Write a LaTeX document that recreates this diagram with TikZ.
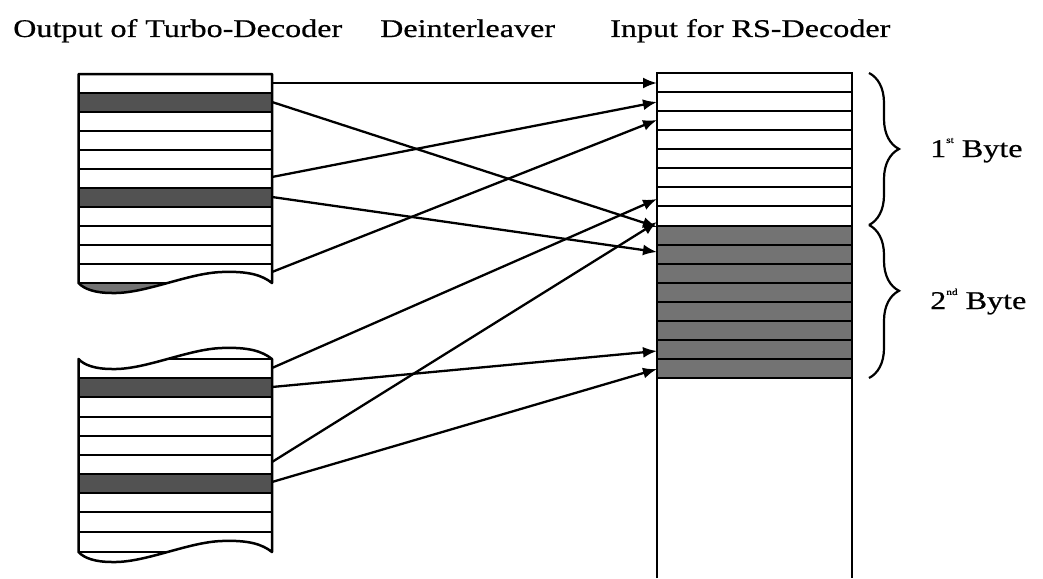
\documentclass[tikz,border=0pt]{standalone}
\usepackage{fontspec}
\setmainfont{Liberation Serif}[FakeStretch=1.26,FakeBold=0.6]
\usetikzlibrary{arrows.meta,decorations.pathreplacing}
\newcommand{\supx}[1]{\raisebox{1.2ex}{\fontsize{9}{9}\selectfont #1}}
\begin{document}
\begin{tikzpicture}[x=1pt,y=-1pt,
  bord/.style={line width=2.5pt},
  rowline/.style={line width=2pt},
  darkL/.style={fill=black!68},
  darkR/.style={fill=black!55},
  conn/.style={line width=2.3pt,-{Latex[length=14pt,width=11pt]}},
  lab/.style={inner sep=0pt,anchor=base west,font=\fontsize{25.5}{30}\selectfont},
  bracestyle/.style={line width=2.2pt,decorate}
]
\useasboundingbox (0,0) rectangle (1043,578);

% ---------- titles ----------
\node[lab] (t1) at (13,37) {Output of Turbo-Decoder};
\node[lab] (t2) at (380,37) {Deinterleaver};
\node[lab] (t3) at (610,37) {Input for RS-Decoder};

% ---------- upper left block ----------
\begin{scope}
\clip (78.5,74) -- (272,74) -- (272,283) .. controls (262,275) and (248,271) .. (222,272)
  .. controls (188,273) and (145,294) .. (112,293) .. controls (95,293) and (84,289) .. (78.5,283) -- cycle;
\fill[darkL] (78.5,93) rectangle (272,112);
\fill[darkL] (78.5,188) rectangle (272,207);
\fill[black!55] (78.5,283) rectangle (272,300);
\foreach \y in {93,112,...,283} \draw[rowline] (78.5,\y) -- (272,\y);
\end{scope}
\draw[bord,line join=round] (78.5,74) -- (272,74) -- (272,283) .. controls (262,275) and (248,271) .. (222,272)
  .. controls (188,273) and (145,294) .. (112,293) .. controls (95,293) and (84,289) .. (78.5,283) -- cycle;

% ---------- lower left block ----------
\begin{scope}
\clip (78.5,359) -- (78.5,552) .. controls (84,558) and (95,562) .. (112,562)
  .. controls (145,563) and (188,542) .. (222,541) .. controls (248,540) and (262,544) .. (272,552)
  -- (272,359) .. controls (262,351) and (248,347) .. (222,348)
  .. controls (188,349) and (145,370) .. (112,369) .. controls (95,369) and (84,365) .. cycle;
\fill[darkL] (78.5,378) rectangle (272,397);
\fill[darkL] (78.5,474) rectangle (272,493);
\foreach \y in {359,378,397,417,436,455,474,493,512,532,552} \draw[rowline] (78.5,\y) -- (272,\y);
\end{scope}
\draw[bord,line join=round] (78.5,359) -- (78.5,552) .. controls (84,558) and (95,562) .. (112,562)
  .. controls (145,563) and (188,542) .. (222,541) .. controls (248,540) and (262,544) .. (272,552)
  -- (272,359) .. controls (262,351) and (248,347) .. (222,348)
  .. controls (188,349) and (145,370) .. (112,369) .. controls (95,369) and (84,365) .. cycle;

% ---------- right block ----------
\foreach \k in {8,...,15} \fill[darkR] (657,{73+19.0625*\k}) rectangle (852,{73+19.0625*(\k+1)});
\foreach \k in {0,...,16} \draw[rowline] (657,{73+19.0625*\k}) -- (852,{73+19.0625*\k});
\draw[bord] (657,578) -- (657,73) -- (852,73) -- (852,578);

% ---------- connector end points ----------
\coordinate (u1) at (272,83);
\coordinate (u2) at (272,102);
\coordinate (u6) at (272,177);
\coordinate (u7) at (272,197);
\coordinate (u11) at (272,272);
\coordinate (l0) at (272,368);
\coordinate (l1) at (272,387);
\coordinate (l5) at (272,462);
\coordinate (l6) at (272,482);
\coordinate (r1) at (657,83);
\coordinate (r2) at (657,102);
\coordinate (r3) at (657,120);
\coordinate (r7) at (657,199);
\coordinate (r8) at (657,222);
\coordinate (r9) at (657,227);
\coordinate (r10) at (657,252);
\coordinate (r15) at (657,351);
\coordinate (r16) at (657,369);

\draw[conn] (u1) -- (r1);
\draw[conn] (u6) -- (r2);
\draw[conn] (u11) -- (r3);
\draw[conn] (l0) -- (r7);
\draw[conn] (l5) -- (r8);
\draw[conn] (u2) -- (r9);
\draw[conn] (u7) -- (r10);
\draw[conn] (l1) -- (r15);
\draw[conn] (l6) -- (r16);

% ---------- braces ----------
\coordinate (b1a) at (869,73);
\coordinate (b1b) at (869,225);
\coordinate (b2a) at (869,225);
\coordinate (b2b) at (869,378);
\draw[bracestyle,decoration={brace,amplitude=30pt}] (b1a) -- (b1b);
\draw[bracestyle,decoration={brace,amplitude=30pt,aspect=0.43}] (b2a) -- (b2b);

\node[lab] (byte1) at (930,157) {1\supx{st} Byte};
\node[lab] (byte2) at (930,309) {2\supx{nd} Byte};
\end{tikzpicture}
\end{document}
